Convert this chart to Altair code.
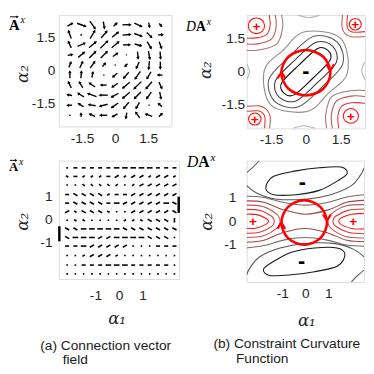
import altair as alt
import numpy as np
import pandas as pd

DOM = [-2.55, 2.55]
TICKS_TOP = [-1.5, 0, 1.5]
TICKS_BOT = [-1, 0, 1]

# ---------------- (a) top: connection vector field, 9 columns x 10 rows ----------------
TL_X = [-2.05, -1.54, -1.03, -0.51, 0.0, 0.51, 1.03, 1.54, 2.05]
TL_Y = [2.1, 1.64, 1.18, 0.72, 0.26, -0.2, -0.66, -1.12, -1.58, -2.04]
TL_ANG = [
    [30, -20, -55, -80, 45, 0, -25, -80, -50],
    [110, 45, 60, 50, 40, 5, -20, -45, 0],
    [115, 25, 40, 45, 40, 0, -15, -60, -70],
    [10, 40, 45, 45, 35, 0, -85, -80, -85],
    [70, 65, 55, 50, 0, -135, -115, -95, -90],
    [90, 85, 80, 0, -140, -130, -125, -120, 180],
    [115, 120, 145, 180, -145, -140, -135, -130, -65],
    [170, 150, 160, 180, -150, -140, -135, -125, -80],
    [180, 150, 170, -165, -145, -130, -120, 0, 140],
    [0, 95, 155, 180, -150, -100, 125, 160, 45],
]
TL_LEN = [
    [0.25, 0.40, 0.40, 0.30, 0.20, 0.35, 0.35, 0.20, 0.15],
    [0.35, 0.08, 0.40, 0.40, 0.35, 0.35, 0.35, 0.30, 0.20],
    [0.30, 0.35, 0.40, 0.45, 0.40, 0.30, 0.30, 0.35, 0.30],
    [0.20, 0.35, 0.40, 0.40, 0.25, 0.05, 0.30, 0.35, 0.30],
    [0.25, 0.30, 0.35, 0.20, 0.05, 0.15, 0.30, 0.35, 0.30],
    [0.30, 0.30, 0.25, 0.05, 0.25, 0.35, 0.40, 0.35, 0.20],
    [0.30, 0.30, 0.30, 0.25, 0.30, 0.40, 0.45, 0.40, 0.30],
    [0.20, 0.30, 0.40, 0.35, 0.35, 0.40, 0.40, 0.35, 0.30],
    [0.20, 0.25, 0.30, 0.35, 0.35, 0.35, 0.30, 0.05, 0.20],
    [0.06, 0.15, 0.25, 0.30, 0.25, 0.25, 0.30, 0.30, 0.20],
]

# ---------------- (a) bottom: dense field, one symbol per arrow ----------------
BL_X = [-2.2, -1.85, -1.5, -1.15, -0.8, -0.45, -0.1, 0.25, 0.6, 0.95, 1.3, 1.65, 2.0, 2.35]
BL_Y = [2.24, 1.87, 1.5, 1.09, 0.72, 0.35, -0.02, -0.39, -0.76, -1.13, -1.54, -1.95, -2.33]
BL_ROWS = [
    ".-----=====---",
    "'-,,,-/,//,//,",
    "..'''',.,/////",
    "-bbbb,--//////",
    "-bbbb-=/////=b",
    "/'bbb'../////b",
    ".''....,,'bbb|",
    "bb=====bbbbbbb",
    "b===//====bbb.",
    "--=/////...---",
    "..,///,.......",
    "..---===-----.",
    "..............",
]
# symbol -> (angle in degrees, length)
BL_SYMBOLS = {".": (0, 0.07), ",": (35, 0.12), "/": (30, 0.2), "'": (-35, 0.12),
              "b": (-30, 0.2), "-": (0, 0.17), "=": (0, 0.24), "|": (90, 0.2)}
BL_EDGE = [(-2.53, -0.6, 90, 0.65), (2.53, 0.65, 90, 0.7)]

# ---------------- (b) contour lines: (panel, id, colour, closed, points) ----------------
CONTOURS = [
    ("TR", "m1", "#111111", True, [(0.954, 0.954), (0.509, 1.044), (-0.297, 0.297), (-1.044, -0.509), (-0.954, -0.954), (-0.509, -1.044), (0.297, -0.297), (1.044, 0.509)]),
    ("TR", "m2", "#3c3c3c", True, [(1.15, 1.15), (0.424, 1.315), (-0.495, 0.495), (-1.315, -0.424), (-1.15, -1.15), (-0.424, -1.315), (0.495, -0.495), (1.315, 0.424)]),
    ("TR", "m3", "#5e5e5e", True, [(1.34, 1.34), (0.339, 1.587), (-0.693, 0.693), (-1.587, -0.339), (-1.34, -1.34), (-0.339, -1.587), (0.693, -0.693), (1.587, 0.339)]),
    ("TR", "m4", "#8c8c8c", True, [(1.5, 1.5), (-0.053, 1.792), (-0.97, 0.97), (-1.792, 0.053), (-1.5, -1.5), (0.053, -1.792), (0.97, -0.97), (1.792, -0.053)]),
    ("TR", "a1", "#ff1010", True, [(-1.78, 2.06), (-1.88, 1.81), (-2.13, 1.71), (-2.38, 1.81), (-2.48, 2.06), (-2.38, 2.31), (-2.13, 2.41), (-1.88, 2.31)]),
    ("TR", "a2", "#e03838", False, [(-1.58, 2.55), (-1.54, 2.08), (-1.68, 1.68), (-2.07, 1.53), (-2.55, 1.5)]),
    ("TR", "a3", "#c05858", False, [(-1.32, 2.55), (-1.28, 2.02), (-1.47, 1.47), (-2.02, 1.26), (-2.55, 1.24)]),
    ("TR", "a4", "#a07878", False, [(-1.05, 2.55), (-1.0, 1.98), (-1.25, 1.25), (-1.98, 0.98), (-2.55, 0.96)]),
    ("TR", "b1", "#ff1010", True, [(2.27, -1.99), (2.17, -2.22), (1.94, -2.32), (1.71, -2.22), (1.61, -1.99), (1.71, -1.76), (1.94, -1.66), (2.17, -1.76)]),
    ("TR", "b2", "#e03838", False, [(1.42, -2.55), (1.38, -2.0), (1.55, -1.55), (2.0, -1.4), (2.55, -1.42)]),
    ("TR", "b3", "#c05858", False, [(1.15, -2.55), (1.1, -1.95), (1.32, -1.32), (1.95, -1.1), (2.55, -1.12)]),
    ("TR", "b4", "#a07878", False, [(0.9, -2.55), (0.86, -1.9), (1.12, -1.12), (1.9, -0.86), (2.55, -0.85)]),
    ("TR", "c1", "#ff1010", True, [(2.39, 2.13), (2.31, 1.95), (2.13, 1.87), (1.95, 1.95), (1.87, 2.13), (1.95, 2.31), (2.13, 2.39), (2.31, 2.31)]),
    ("TR", "c2", "#e03838", False, [(1.8, 2.55), (1.77, 2.08), (1.86, 1.86), (2.08, 1.77), (2.55, 1.8)]),
    ("TR", "c3", "#c05858", False, [(1.58, 2.55), (1.56, 2.02), (1.7, 1.7), (2.02, 1.56), (2.55, 1.58)]),
    ("TR", "d1", "#ff1010", True, [(-1.93, -2.13), (-2.01, -2.32), (-2.2, -2.4), (-2.39, -2.32), (-2.47, -2.13), (-2.39, -1.94), (-2.2, -1.86), (-2.01, -1.94)]),
    ("TR", "d2", "#e03838", False, [(-1.78, -2.55), (-1.76, -2.06), (-1.86, -1.86), (-2.06, -1.76), (-2.55, -1.78)]),
    ("TR", "d3", "#c05858", False, [(-1.56, -2.55), (-1.54, -2.0), (-1.7, -1.7), (-2.0, -1.54), (-2.55, -1.56)]),
    ("TR", "e1", "#b4b4b4", False, [(-2.55, 0.35), (-2.43, 0.0), (-2.55, -0.35)]),
    ("TR", "e2", "#b4b4b4", False, [(2.55, 0.45), (2.41, 0.05), (2.55, -0.35)]),
    ("TR", "e3", "#b4b4b4", False, [(-0.35, 2.55), (0.15, 2.43), (0.6, 2.55)]),
    ("TR", "e4", "#b4b4b4", False, [(-0.55, -2.55), (-0.1, -2.43), (0.4, -2.55)]),
    ("BR", "k1", "#1a1a1a", True, [(-1.72, 1.4), (-1.38, 1.12), (-0.4, 1.12), (0.6, 1.3), (1.4, 1.7), (1.82, 2.02), (1.55, 2.28), (0.6, 2.25), (-0.4, 2.12), (-1.4, 1.88)]),
    ("BR", "k2", "#1a1a1a", True, [(1.72, -1.4), (1.38, -1.12), (0.4, -1.12), (-0.6, -1.3), (-1.4, -1.7), (-1.82, -2.02), (-1.55, -2.28), (-0.6, -2.25), (0.4, -2.12), (1.4, -1.88)]),
    ("BR", "L1", "#ff1a1a", False, [(-2.55, 0.3), (-2.1, 0.28), (-1.7, 0.12), (-1.6, 0.0), (-1.7, -0.12), (-2.1, -0.28), (-2.55, -0.3)]),
    ("BR", "L2", "#e03838", False, [(-2.55, 0.5), (-1.95, 0.45), (-1.45, 0.2), (-1.35, 0.0), (-1.45, -0.2), (-1.95, -0.45), (-2.55, -0.5)]),
    ("BR", "L3", "#c05858", False, [(-2.55, 0.68), (-1.85, 0.62), (-1.25, 0.3), (-1.1, 0.0), (-1.25, -0.3), (-1.85, -0.62), (-2.55, -0.68)]),
    ("BR", "R1", "#ff1a1a", False, [(2.55, 0.32), (2.0, 0.3), (1.55, 0.14), (1.45, 0.0), (1.55, -0.14), (2.0, -0.3), (2.55, -0.32)]),
    ("BR", "R2", "#e03838", False, [(2.55, 0.52), (1.85, 0.46), (1.3, 0.2), (1.2, 0.0), (1.3, -0.2), (1.85, -0.46), (2.55, -0.52)]),
    ("BR", "R3", "#c05858", False, [(2.55, 0.7), (1.75, 0.64), (1.12, 0.3), (0.98, 0.0), (1.12, -0.3), (1.75, -0.64), (2.55, -0.7)]),
    ("BR", "T1u", "#9a4848", False, [(-2.55, 0.86), (-1.8, 0.8), (-1.0, 0.5), (0.0, 0.3), (1.0, 0.48), (1.8, 0.8), (2.55, 0.88)]),
    ("BR", "T1d", "#9a4848", False, [(-2.55, -0.88), (-1.8, -0.8), (-1.0, -0.48), (0.0, -0.3), (1.0, -0.5), (1.8, -0.8), (2.55, -0.86)]),
    ("BR", "T2u", "#786868", False, [(-2.55, 1.05), (-1.8, 1.0), (-0.9, 0.78), (0.0, 0.68), (0.9, 0.78), (1.8, 1.02), (2.55, 1.12)]),
    ("BR", "T2d", "#786868", False, [(-2.55, -1.12), (-1.8, -1.02), (-0.9, -0.78), (0.0, -0.68), (0.9, -0.78), (1.8, -1.0), (2.55, -1.05)]),
    ("BR", "T3u", "#555555", False, [(-2.55, 1.5), (-2.1, 1.18), (-1.3, 0.94), (0.0, 0.93), (1.1, 1.12), (2.0, 1.5), (2.4, 1.95), (2.55, 2.25)]),
    ("BR", "T3d", "#555555", False, [(2.55, -1.5), (2.1, -1.18), (1.3, -0.94), (0.0, -0.93), (-1.1, -1.12), (-2.0, -1.5), (-2.4, -1.95), (-2.55, -2.25)]),
    ("BR", "g1", "#666666", False, [(-2.55, 2.05), (-2.25, 2.3), (-2.0, 2.55)]),
    ("BR", "g2", "#666666", False, [(2.55, -2.05), (2.25, -2.3), (2.0, -2.55)]),
]
CIRCLES = {
    "TR": [(1.06, -0.05), (0.75, 0.67), (0.0, 0.97), (-0.75, 0.67), (-1.06, -0.05), (-0.75, -0.77), (0.0, -1.07), (0.75, -0.77)],
    "BR": [(0.94, -0.05), (0.65, 0.61), (-0.05, 0.89), (-0.75, 0.61), (-1.04, -0.05), (-0.75, -0.71), (-0.05, -0.99), (0.65, -0.71)],
}
CIRCLE_HEADS = [("TR", -1.05, -0.12, 0), ("TR", 1.05, 0.15, 180), ("BR", -1.04, -0.15, 0), ("BR", 0.94, 0.12, 180)]
SIGNS = [("TR", "+", -2.13, 2.06), ("TR", "+", 2.13, 2.13), ("TR", "+", -2.2, -2.13), ("TR", "+", 1.94, -1.99),
         ("TR", "-", 0.0, 0.03), ("BR", "+", -2.28, 0.0), ("BR", "+", 2.08, 0.0),
         ("BR", "-", -0.13, 1.65), ("BR", "-", -0.16, -1.69)]

# ---------------- tables ----------------
def arrows(xs, ys, angs, lens):
    rows = []
    for x, y, a, L in zip(xs, ys, angs, lens):
        r = np.deg2rad(a)
        dx, dy = L / 2 * np.cos(r), L / 2 * np.sin(r)
        rows.append(dict(x1=x - dx, y1=y - dy, x2=x + dx, y2=y + dy, rot=(90 - a) % 360, L=L))
    return pd.DataFrame(rows)

gx, gy, ga, gl = [], [], [], []
for j, yv in enumerate(TL_Y):
    for i, xv in enumerate(TL_X):
        gx.append(xv); gy.append(yv); ga.append(TL_ANG[j][i]); gl.append(TL_LEN[j][i])
TLDF = arrows(gx, gy, ga, gl)

bx, by, ba, bl = [], [], [], []
for j, yv in enumerate(BL_Y):
    for i, xv in enumerate(BL_X):
        a, L = BL_SYMBOLS[BL_ROWS[j][i]]
        bx.append(xv); by.append(yv); ba.append(a); bl.append(L)
BLDF = arrows(bx, by, ba, bl)
BLEDGE = arrows([e[0] for e in BL_EDGE], [e[1] for e in BL_EDGE], [e[2] for e in BL_EDGE], [e[3] for e in BL_EDGE])

crow = []
for panel, cid, col, closed, pts in CONTOURS:
    for k, (x, y) in enumerate(pts):
        crow.append(dict(panel=panel, id=cid, col=col, closed=closed, ord=k, x=x, y=y))
CDF = pd.DataFrame(crow)
circ = []
for panel, pts in CIRCLES.items():
    for k, (x, y) in enumerate(pts):
        circ.append(dict(panel=panel, ord=k, x=x, y=y))
CIRC = pd.DataFrame(circ)
HEADS = pd.DataFrame(CIRCLE_HEADS, columns=["panel", "x", "y", "rot"])
SG = pd.DataFrame(SIGNS, columns=["panel", "t", "x", "y"])
ONE = pd.DataFrame({"k": [0]})

# ---------------- helpers ----------------
LAB = "datum.value == 0 ? '0' : (datum.value < 0 ? '-' : '') + abs(datum.value)"
SCALE = alt.Scale(domain=DOM, nice=False, zero=False)
INK = "#262626"


def axis(vals, pad, title=None, tx=0, ty=0):
    kw = dict(values=vals, labelExpr=LAB, ticks=False, domain=False, grid=False,
              labelFont="Liberation Sans", labelFontSize=14, labelColor=INK, labelPadding=pad)
    if title:
        kw.update(title=title, titleFont="DejaVu Serif", titleFontStyle="italic", titleFontWeight="normal",
                  titleFontSize=17, titleColor=INK, titleX=tx, titleY=ty, titleAlign="center",
                  titleBaseline="middle")
    else:
        kw.update(title=None)
    return alt.Axis(**kw)


def enc(xa, ya):
    return (lambda f: alt.X(f + ":Q", scale=SCALE, axis=xa),
            lambda f: alt.Y(f + ":Q", scale=SCALE, axis=ya))


def txt(s, x, y, size, font="Liberation Serif", style="normal", weight="normal", color="black", align="left"):
    return alt.Chart(ONE).mark_text(text=s, font=font, fontSize=size, fontStyle=style, fontWeight=weight,
                                    color=color, align=align, baseline="alphabetic").encode(
        x=alt.value(x), y=alt.value(y))


def vec_title(xa, ya, size):
    # bold A with a small vector arrow and superscript x
    w = size * 0.72
    return [
        txt("A", xa, ya, size, weight="bold"),
        alt.Chart(ONE).mark_rule(color="black", strokeWidth=1).encode(
            x=alt.value(xa + 1), x2=alt.value(xa + w - 2), y=alt.value(ya - size * 0.87)),
        alt.Chart(ONE).mark_point(shape="triangle-right", filled=True, size=8, color="black", opacity=1).encode(
            x=alt.value(xa + w - 2), y=alt.value(ya - size * 0.87)),
        txt("x", xa + w + 1, ya - 7, 10, style="italic"),
    ]


def da_title(xd, yb, size):
    w = size * 0.72
    return [
        txt("D", xd, yb, size, style="italic"),
        txt("A", xd + w, yb, size, weight="bold"),
        txt("x", xd + 2 * w + 1, yb - 6, size * 0.7, style="italic"),
    ]


def vector_panel(df, edge, w, h, xa, ya, head, sw, title_layers, extra):
    X, Y = enc(xa, ya)
    layers = [alt.Chart(df).mark_rule(color="black", strokeWidth=sw).encode(
        x=X("x1"), y=Y("y1"), x2="x2:Q", y2="y2:Q")]
    if head:
        layers.append(alt.Chart(df[df.L > 0.1]).mark_point(shape="triangle-up", filled=True, size=head,
                                                           color="black", opacity=1, strokeWidth=0).encode(
            x=X("x2"), y=Y("y2"), angle=alt.Angle("rot:Q", scale=None)))
    if edge is not None:
        layers.append(alt.Chart(edge).mark_rule(color="black", strokeWidth=2.5).encode(
            x=X("x1"), y=Y("y1"), x2="x2:Q", y2="y2:Q"))
    return alt.layer(*layers, *title_layers, *extra).properties(width=w, height=h)


CHEV = "M-1,1L0,-0.6L1,1"


def contour_panel(panel, w, h, xa, ya, title_layers, extra):
    X, Y = enc(xa, ya)
    d = CDF[CDF.panel == panel]
    layers = [
        alt.Chart(d[d.closed]).mark_line(interpolate="cardinal-closed", strokeWidth=1.1, clip=True).encode(
            x=X("x"), y=Y("y"), detail="id:N", order="ord:Q", color=alt.Color("col:N", scale=None)),
        alt.Chart(d[~d.closed]).mark_line(interpolate="cardinal", strokeWidth=1.1, clip=True).encode(
            x=X("x"), y=Y("y"), detail="id:N", order="ord:Q", color=alt.Color("col:N", scale=None)),
        alt.Chart(CIRC[CIRC.panel == panel]).mark_line(interpolate="cardinal-closed", strokeWidth=2.6,
                                                       color="#ff0000", clip=True).encode(
            x=X("x"), y=Y("y"), order="ord:Q"),
        alt.Chart(HEADS[HEADS.panel == panel]).mark_point(shape=CHEV, filled=False, strokeWidth=2.2, size=64,
                                                          color="#ff0000", opacity=1).encode(
            x=X("x"), y=Y("y"), angle=alt.Angle("rot:Q", scale=None)),
        alt.Chart(SG[(SG.panel == panel) & (SG.t == "+")]).mark_text(
            font="Liberation Sans", fontWeight="bold", fontSize=14, color="#ff0000", baseline="middle", dy=1).encode(
            x=X("x"), y=Y("y"), text="t:N"),
        alt.Chart(SG[(SG.panel == panel) & (SG.t == "-")]).mark_text(
            font="Liberation Sans", fontWeight="bold", fontSize=22, color="black", baseline="middle", dy=0).encode(
            x=X("x"), y=Y("y"), text="t:N"),
    ]
    return alt.layer(*layers, *title_layers, *extra).properties(width=w, height=h)


def cap(s, x, y):
    return txt(s, x, y, 14, font="Liberation Sans", color="#1a1a1a")

# ---------------- panels (pixel sizes of the plot areas) ----------------
# grid origins: column 1 at page x 59, column 2 at 251; row 1 at page y 10, row 2 at 159
TL = vector_panel(TLDF, None, 115, 114,
                  axis(TICKS_TOP, 5), axis(TICKS_TOP, 4, "α₂", -37, 60), 12, 1.4,
                  vec_title(-51, 15, 15), [])
TR = contour_panel("TR", 121, 116,
                   axis(TICKS_TOP, 4), axis(TICKS_TOP, 2, "α₂", -42, 56),
                   da_title(-62, 16, 14), [])
BL = vector_panel(BLDF, BLEDGE, 123, 121,
                  axis(TICKS_BOT, 10, "α₁", 59, 40), axis(TICKS_BOT, 7, "α₂", -37, 62), 0, 1.6,
                  vec_title(-51, 11, 13),
                  [cap("(a) Connection vector", -19, 194), cap("field", 4, 208)])
BR = contour_panel("BR", 120, 124,
                   axis(TICKS_BOT, 5, "α₁", 61, 40), axis(TICKS_BOT, 11, "α₂", -41, 62),
                   da_title(-61, 6, 16),
                   [cap("(b) Constraint Curvature", -34, 192), cap("Function", -11, 207)])

chart = alt.concat(TL, TR, BL, BR, columns=2, bounds="flush",
                   spacing={"row": 33, "column": 69}).properties(
    padding={"left": 0, "top": 2, "right": 0, "bottom": 0}
).configure_view(stroke="#9a9a9a", strokeWidth=1).configure(background="white")

chart.save("out.html", embed_options={"renderer": "svg", "actions": False})
